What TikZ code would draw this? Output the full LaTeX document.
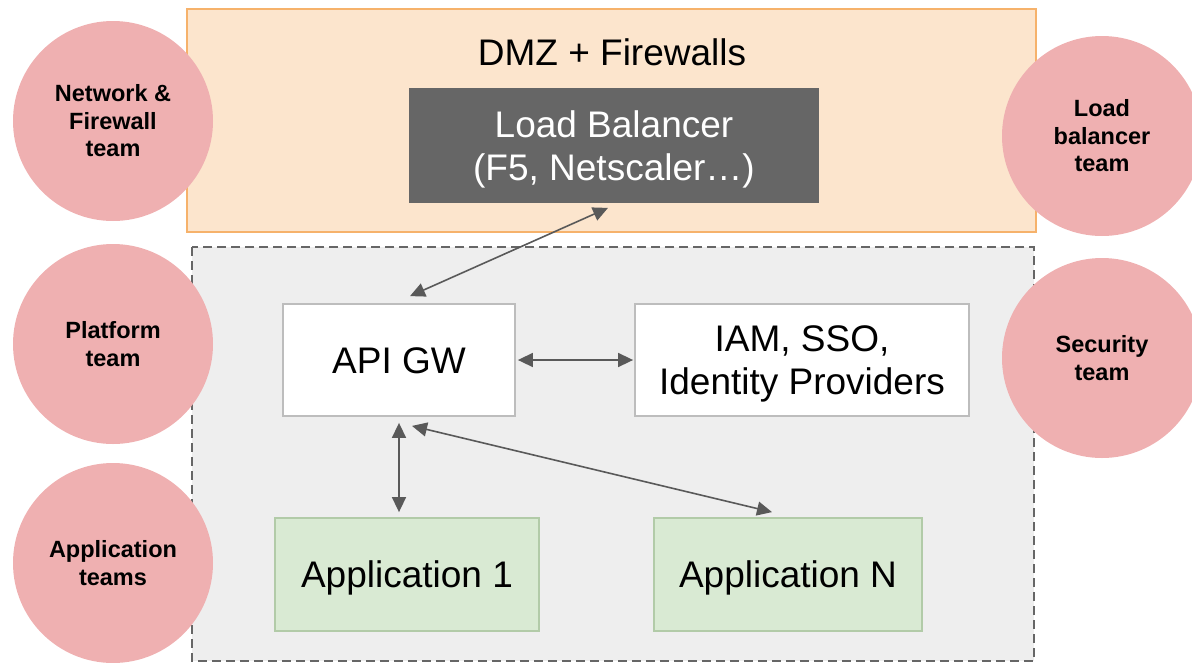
\documentclass[tikz,border=0pt]{standalone}
\usepackage{fontspec}
\setmainfont{Liberation Sans}
\usetikzlibrary{arrows.meta}

\definecolor{dmzfill}{HTML}{FCE5CD}
\definecolor{dmzline}{HTML}{F6B26B}
\definecolor{zonefill}{HTML}{EEEEEE}
\definecolor{zoneline}{HTML}{666666}
\definecolor{lbfill}{HTML}{666666}
\definecolor{boxline}{HTML}{BDBDBD}
\definecolor{appfill}{HTML}{D9EAD3}
\definecolor{appline}{HTML}{B2CBA8}
\definecolor{teamfill}{HTML}{EFB0B1}
\definecolor{linkgray}{HTML}{595959}

\begin{document}
\begin{tikzpicture}[x=1pt, y=-1pt, >={Triangle[length=15pt,width=14pt]},
    bigtext/.style={font=\fontsize{37}{43}\selectfont, align=center, text height=26.6pt, text depth=0pt},
    twoline/.style={text height=69.6pt},
    srvbox/.style={bigtext, draw=boxline, line width=1.8pt, fill=white, inner sep=0pt},
    appbox/.style={srvbox, draw=appline, fill=appfill},
    team/.style={circle, fill=teamfill, minimum size=200pt, inner sep=0pt, align=center,
        font=\bfseries\fontsize{23.5}{27.5}\selectfont},
    link/.style={<->, draw=linkgray, line width=1.6pt}]
    \useasboundingbox (0,0) rectangle (1192,662);

    % 1. zones (bottom layer)
    \draw[fill=dmzfill, draw=dmzline, line width=1.5pt] (187,9) rectangle (1036,232);
    \draw[fill=zonefill, draw=zoneline, line width=1.6pt, dash pattern=on 9pt off 5pt] (192,247) rectangle (1034,661);
    \node[bigtext] (dmz) at (612,52) {DMZ + Firewalls};

    % 2. components
    \node[srvbox, twoline, fill=lbfill, draw=lbfill, text=white, minimum width=408pt, minimum height=113pt]
        (lb) at (614,145.5) {Load Balancer\\(F5, Netscaler…)};
    \node[srvbox, minimum width=232pt, minimum height=112pt] (api) at (399,360) {API GW};
    \node[srvbox, twoline, minimum width=334pt, minimum height=112pt] (iam) at (802,360) {IAM, SSO,\\Identity Providers};
    \node[appbox, minimum width=264pt, minimum height=113pt] (app1) at (407,574.5) {Application 1};
    \node[appbox, minimum width=268pt, minimum height=113pt] (appn) at (788,574.5) {Application N};

    % 3. links (ends kept just off the boxes)
    \draw[link] ([xshift=-6pt,yshift=-5pt]lb.south) -- ([xshift=11pt,yshift=7pt]api.north);
    \draw[link] ([xshift=2pt]api.east) -- ([xshift=-1pt]iam.west);
    \draw[link] ([yshift=-6pt]api.south) -- ([xshift=-8pt,yshift=5pt]app1.north);
    \draw[link] ([xshift=13pt,yshift=-9pt]api.south) -- ([xshift=-16pt,yshift=5pt]appn.north);

    % 4. teams (drawn last, they sit over the zones)
    \node[team] (netteam) at (113,121) {Network \&\\Firewall\\team};
    \node[team] (platteam) at (113,344) {Platform\\team};
    \node[team] (appteam) at (113,563) {Application\\teams};
    \node[team] (lbteam) at (1102,136) {Load\\balancer\\team};
    \node[team] (secteam) at (1102,358) {Security\\team};
\end{tikzpicture}
\end{document}
